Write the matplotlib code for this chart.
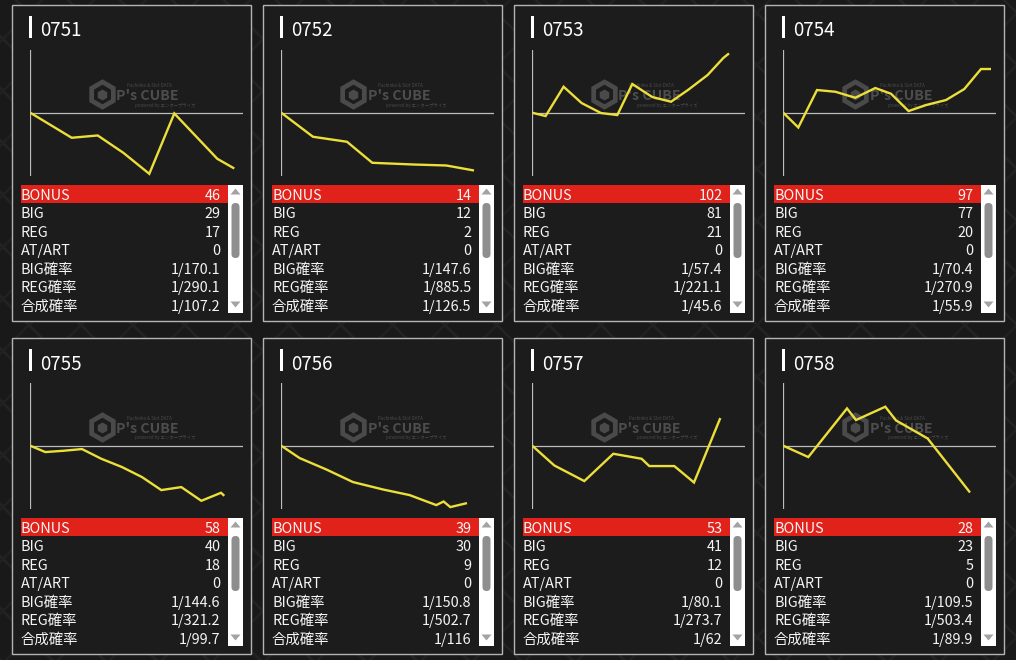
import matplotlib.pyplot as plt
import numpy as np
from matplotlib.patches import Rectangle, Polygon, FancyBboxPatch, RegularPolygon

plt.rcParams['font.family'] = ['Noto Sans CJK JP', 'DejaVu Sans']

W, H = 1016, 660

machines = ['0751', '0752', '0753', '0754', '0755', '0756', '0757', '0758']

# graph data (x: progress, y: difference, 0 = start)
x_0751 = [0, 41.4, 67.4, 93, 119, 144, 187, 204]
y_0751 = [0, -25, -22.7, -40, -61, -0.7, -46, -55.7]
x_0752 = [0, 31.7, 65.7, 91, 131.7, 165, 192.7]
y_0752 = [0, -24, -29, -50, -51.7, -52.7, -57.7]
x_0753 = [0, 13.3, 31.3, 49.3, 68.7, 85, 100, 120, 138.7, 156, 175.3, 191, 196.7]
y_0753 = [0, -3.3, 26, 9.7, -0.3, -2.3, 28.7, 15.7, 11, 23, 37.7, 54.7, 59.3]
x_0754 = [0, 15, 33.7, 52, 72, 92, 107.7, 125.3, 142.7, 162.7, 181, 197.7, 207.7]
y_0754 = [0, -14.7, 22.7, 21, 15, 24.7, 19, 1.7, 7.7, 12.7, 23.7, 43.7, 43.7]
x_0755 = [0, 15, 33.3, 51.7, 71, 91.7, 111.7, 131, 151, 171, 190.7, 194]
y_0755 = [0, -6.3, -5, -3.3, -13, -21.3, -31.3, -44.3, -41.3, -55, -47, -50]
x_0756 = [0, 18.3, 45, 71.7, 101.7, 128.3, 155, 162.3, 169, 185.7]
y_0756 = [0, -12.3, -23.7, -36.3, -43.7, -49.3, -59.3, -55.7, -61.3, -57.3]
x_0757 = [0, 22, 52, 81, 109.3, 117, 142, 161.7, 188]
y_0757 = [0, -19.7, -35.3, -8, -13, -20.3, -20.3, -36.7, 27.7]
x_0758 = [0, 25, 63.7, 72.7, 102, 112.7, 144.3, 186.7]
y_0758 = [0, -11.3, 37.3, 25.7, 39, 25.3, 7.3, -46.7]

xs = [x_0751, x_0752, x_0753, x_0754, x_0755, x_0756, x_0757, x_0758]
ys = [y_0751, y_0752, y_0753, y_0754, y_0755, y_0756, y_0757, y_0758]

row_labels = ['BONUS', 'BIG', 'REG', 'AT/ART', 'BIG確率', 'REG確率', '合成確率']
bonus = [46, 14, 102, 97, 58, 39, 53, 28]
big = [29, 12, 81, 77, 40, 30, 41, 23]
reg = [17, 2, 21, 20, 18, 9, 12, 5]
at_art = [0, 0, 0, 0, 0, 0, 0, 0]
big_prob = ['1/170.1', '1/147.6', '1/57.4', '1/70.4', '1/144.6', '1/150.8', '1/80.1', '1/109.5']
reg_prob = ['1/290.1', '1/885.5', '1/221.1', '1/270.9', '1/321.2', '1/502.7', '1/273.7', '1/503.4']
total_prob = ['1/107.2', '1/126.5', '1/45.6', '1/55.9', '1/99.7', '1/116', '1/62', '1/89.9']

fig = plt.figure(figsize=(W / 100, H / 100), dpi=100)
fig.patch.set_facecolor('#191919')

# full-figure canvas in pixel coordinates
cv = fig.add_axes([0, 0, 1, 1])
cv.set_xlim(0, W)
cv.set_ylim(H, 0)
cv.axis('off')
cv.set_facecolor('#191919')

# diamond plate background
t = np.array([-H, W + H])
for c in np.arange(-H, W + H, 52):
    cv.plot(t, t - c, color='#232323', lw=2.0, zorder=0)
    cv.plot(t, -t + c + 26, color='#212121', lw=2.0, zorder=0)

col_x = [12, 263, 514, 765]
row_y = [5, 338]


def add_px_axes(x, y, w, h):
    return fig.add_axes([x / W, 1 - (y + h) / H, w / W, h / H])


for i, name in enumerate(machines):
    x0 = col_x[i % 4]
    y0 = row_y[i // 4]

    # panel frame
    cv.add_patch(Rectangle((x0, y0), 239, 316, facecolor='#1c1c1c',
                           edgecolor='#b4b4b4', lw=1.0, zorder=2))

    # title
    cv.add_patch(Rectangle((x0 + 17, y0 + 11), 2.6, 22, facecolor='white',
                           edgecolor='none', zorder=3))
    cv.text(x0 + 28, y0 + 26, name, color='white', fontsize=13.5,
            va='center', ha='left', zorder=3)

    # watermark
    cv.add_patch(RegularPolygon((x0 + 90.5, y0 + 89.5), 6, radius=12.5,
                                facecolor='none', edgecolor='#4a4a4a',
                                lw=3.4, zorder=3))
    cv.add_patch(RegularPolygon((x0 + 90.5, y0 + 90), 6, radius=5.5,
                                facecolor='#4a4a4a', edgecolor='none', zorder=3))
    cv.text(x0 + 104.5, y0 + 91, "P's CUBE", color='#4d4d4d', fontsize=10.2,
            fontweight='bold', va='center', ha='left', zorder=3)
    cv.text(x0 + 115, y0 + 80.5, 'Pachinko & Slot DATA', color='#4a4a4a',
            fontsize=3.2, va='center', ha='left', zorder=3)
    cv.text(x0 + 123, y0 + 100, 'powered by エンタープライズ', color='#4a4a4a',
            fontsize=3.2, va='center', ha='left', zorder=3)

    # graph
    ax = add_px_axes(x0 + 18.3, y0 + 44.5, 212.7, 126.5)
    ax.patch.set_alpha(0)
    ax.axis('off')
    ax.set_xlim(0, 212.7)
    ax.set_ylim(-63.2, 63.2)
    ax.axhline(0, color='#bdbdbd', lw=0.9, zorder=1)
    ax.axvline(0, color='#bdbdbd', lw=0.9, zorder=1)
    ax.plot(xs[i], ys[i], color='#ecdf3a', lw=1.7, zorder=2,
            solid_joinstyle='miter', solid_capstyle='butt')

    # table
    vals = [bonus[i], big[i], reg[i], at_art[i], big_prob[i], reg_prob[i], total_prob[i]]
    cv.add_patch(Rectangle((x0 + 9, y0 + 180), 207, 18, facecolor='#e0221b',
                           edgecolor='none', zorder=3))
    for r, (lab, v) in enumerate(zip(row_labels, vals)):
        yy = y0 + 190.8 + r * 18.5
        cv.text(x0 + 9, yy, lab, color='#f4f4f4', fontsize=10.4,
                va='center', ha='left', zorder=4)
        cv.text(x0 + 208.5, yy, str(v), color='#f4f4f4', fontsize=10.4,
                va='center', ha='right', zorder=4)

    # scrollbar
    cv.add_patch(Rectangle((x0 + 216, y0 + 180), 15, 128, facecolor='white',
                           edgecolor='none', zorder=3))
    cx = x0 + 223.5
    cv.add_patch(Polygon([(cx - 5, y0 + 189.5), (cx + 5, y0 + 189.5), (cx, y0 + 183.5)],
                         closed=True, facecolor='#a3a3a3', edgecolor='none', zorder=4))
    cv.add_patch(Polygon([(cx - 5, y0 + 296.5), (cx + 5, y0 + 296.5), (cx, y0 + 302.5)],
                         closed=True, facecolor='#a3a3a3', edgecolor='none', zorder=4))
    cv.add_patch(FancyBboxPatch((x0 + 219.5, y0 + 198), 8, 55,
                                boxstyle='round,pad=0,rounding_size=4',
                                facecolor='#8e8e8e', edgecolor='none', zorder=4))

plt.savefig('out.png', dpi=100, facecolor=fig.get_facecolor())
